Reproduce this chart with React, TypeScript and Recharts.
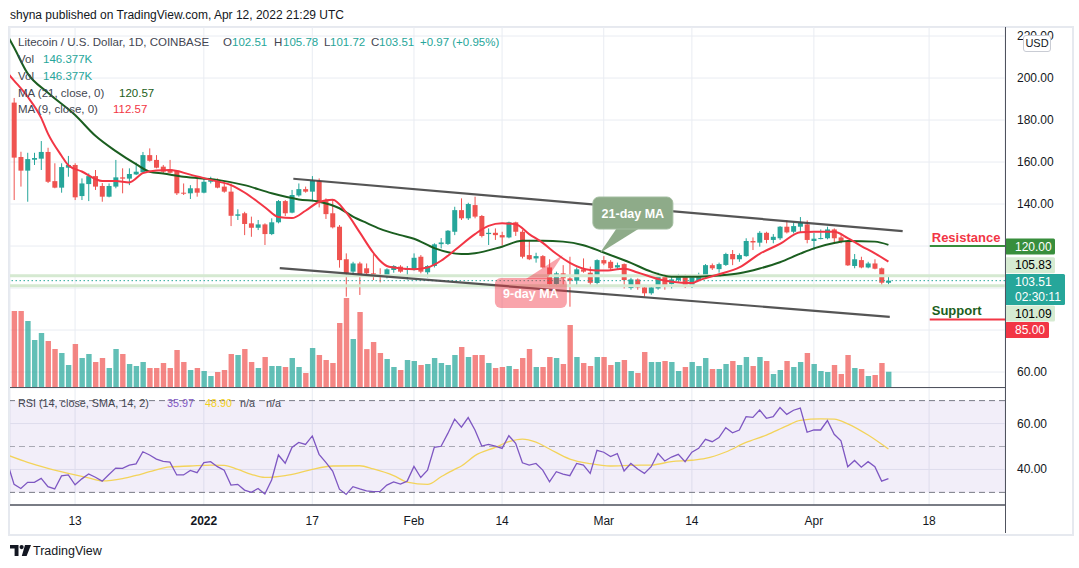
import React from "react";
import {
  ComposedChart,
  Bar,
  Line,
  XAxis,
  YAxis,
  CartesianGrid,
  ReferenceLine,
  ReferenceArea,
  ReferenceDot,
} from "recharts";

const FONT = '"Liberation Sans", Arial, sans-serif';

// ---- daily candles, day 0 = Dec 4 2021 ... day 129 = Apr 12 2022 ----
const opens = [
  188.3, 162.4, 155.9, 161.1, 161.6, 164.8, 150.9, 147.8, 157.3, 158.6,
  143.8, 149.5, 153.3, 148.6, 143.5, 148.3, 152.7, 152.1, 154.1, 155.1,
  163.3, 161.0, 157.8, 156.5, 155.9, 145.4, 145.1, 147.5, 145.4, 150.6,
  150.9, 148.3, 145.9, 134.4, 135.6, 130.8, 128.7, 130.3, 125.7, 131.3,
  141.4, 135.9, 144.1, 147.1, 145.9, 150.9, 141.4, 135.6, 129.2, 113.7,
  107.8, 111.7, 109.4, 107.0, 106.2, 105.9, 108.6, 110.2, 108.6, 108.6,
  114.9, 107.5, 110.5, 120.9, 121.0, 126.8, 137.1, 133.2, 139.5, 134.3,
  125.7, 126.3, 125.2, 124.1, 131.3, 126.8, 115.7, 114.1, 115.2, 109.8,
  101.9, 107.0, 104.6, 103.5, 108.9, 107.3, 102.4, 113.3, 112.5, 109.8,
  111.4, 100.0, 104.1, 100.3, 97.5, 99.8, 106.2, 101.9, 103.8, 105.4,
  100.6, 103.8, 105.4, 110.9, 109.0, 111.0, 116.2, 113.7, 115.2, 122.4,
  121.6, 126.3, 122.9, 123.7, 129.2, 126.8, 129.2, 130.3, 122.4, 123.5,
  123.7, 127.9, 124.1, 122.4, 110.5, 113.3, 109.8, 111.7, 109.4, 102.51,
];
const highs = [
  190.5, 164.9, 164.4, 164.4, 170.0, 166.8, 159.4, 159.4, 162.9, 159.4,
  152.2, 154.6, 156.2, 150.0, 149.8, 161.0, 157.0, 157.0, 159.7, 164.8,
  166.5, 163.3, 158.6, 161.0, 156.2, 149.8, 149.0, 152.7, 152.5, 153.0,
  152.2, 150.6, 149.8, 137.5, 136.3, 134.0, 132.4, 130.8, 133.2, 141.9,
  141.9, 146.7, 149.8, 148.3, 153.3, 152.2, 142.7, 141.9, 130.0, 116.5,
  112.5, 112.5, 111.7, 116.2, 109.4, 109.4, 110.9, 110.9, 110.5, 116.5,
  115.7, 110.9, 121.3, 123.8, 127.6, 138.7, 142.7, 140.6, 143.5, 134.8,
  128.4, 128.4, 126.8, 131.6, 131.6, 127.6, 122.9, 116.8, 115.7, 113.7,
  107.8, 110.9, 114.9, 109.8, 114.1, 110.2, 113.7, 115.2, 113.3, 112.1,
  111.7, 104.9, 104.6, 100.9, 100.6, 107.3, 106.7, 105.7, 106.7, 106.5,
  106.2, 107.3, 111.4, 111.7, 112.1, 116.8, 118.1, 116.5, 123.7, 124.1,
  127.1, 126.8, 125.7, 129.5, 132.2, 131.1, 133.8, 132.2, 126.3, 127.9,
  129.2, 128.4, 125.2, 122.9, 116.2, 114.9, 112.5, 113.7, 109.8, 105.78,
];
const lows = [
  141.9, 148.3, 141.1, 158.6, 156.2, 150.0, 147.5, 145.4, 153.0, 141.9,
  141.9, 141.4, 146.7, 141.1, 143.2, 147.5, 145.1, 149.0, 153.8, 154.9,
  160.2, 157.0, 154.6, 154.6, 144.3, 144.3, 142.4, 143.5, 145.1, 149.8,
  147.5, 145.4, 129.5, 132.4, 125.2, 124.4, 127.6, 120.5, 125.2, 130.8,
  134.3, 135.6, 143.5, 145.4, 141.9, 138.4, 132.9, 128.4, 109.7, 95.9,
  106.2, 96.7, 106.0, 103.8, 102.7, 104.6, 107.3, 107.3, 104.1, 108.3,
  107.0, 105.1, 109.8, 118.9, 120.5, 125.2, 132.4, 132.4, 133.2, 124.1,
  120.5, 122.9, 120.2, 123.7, 124.8, 114.1, 113.3, 112.1, 109.4, 100.6,
  100.6, 101.4, 91.1, 100.9, 107.3, 100.6, 101.6, 110.9, 108.6, 108.6,
  99.8, 99.2, 99.2, 96.0, 96.8, 99.2, 99.2, 99.8, 102.9, 100.0,
  100.0, 103.5, 104.6, 108.6, 107.3, 110.5, 110.9, 112.5, 114.9, 118.1,
  119.7, 121.3, 121.3, 122.9, 126.0, 126.0, 126.2, 121.3, 118.1, 123.2,
  123.2, 121.3, 121.3, 110.5, 109.4, 109.4, 109.4, 108.9, 101.4, 101.72,
];
const closes = [
  162.1, 155.9, 161.4, 161.9, 164.8, 150.6, 147.8, 157.6, 158.6, 143.2,
  149.8, 153.3, 148.3, 143.5, 148.6, 152.7, 152.1, 154.3, 155.4, 163.3,
  160.6, 157.3, 155.4, 154.9, 145.1, 145.1, 147.5, 145.4, 150.6, 151.4,
  147.8, 145.9, 134.4, 135.1, 130.5, 128.7, 130.3, 125.7, 131.3, 141.4,
  135.6, 144.3, 147.1, 145.9, 151.1, 140.6, 135.2, 128.9, 113.3, 107.0,
  111.7, 106.2, 107.0, 106.2, 105.7, 108.9, 110.5, 107.8, 109.2, 114.4,
  107.8, 110.5, 120.8, 121.7, 127.3, 137.1, 133.2, 140.0, 134.0, 124.8,
  126.3, 125.2, 124.1, 131.3, 126.8, 114.9, 113.7, 115.2, 109.8, 101.9,
  107.0, 104.6, 103.5, 108.9, 107.8, 102.5, 113.3, 111.7, 109.4, 110.9,
  103.8, 104.1, 100.3, 97.5, 100.3, 106.2, 101.4, 104.1, 105.4, 100.6,
  105.1, 106.2, 110.9, 109.4, 111.4, 116.2, 113.7, 115.7, 122.4, 121.7,
  126.3, 122.9, 124.4, 129.2, 126.5, 129.5, 131.1, 122.9, 123.5, 123.8,
  127.9, 123.7, 122.1, 110.8, 113.7, 109.8, 111.7, 109.2, 102.54, 103.51,
];
// volume in thousands
const volumes = [
  693, 693, 603, 432, 495, 423, 351, 315, 207, 396,
  270, 306, 234, 270, 180, 351, 306, 216, 198, 234,
  180, 180, 225, 180, 342, 234, 162, 180, 153, 108,
  144, 162, 306, 297, 351, 234, 180, 279, 198, 198,
  189, 270, 189, 135, 360, 297, 252, 225, 585, 810,
  441, 684, 350, 414, 315, 261, 189, 162, 252, 243,
  207, 216, 270, 225, 207, 297, 369, 279, 297, 297,
  225, 180, 189, 198, 171, 270, 351, 189, 189, 279,
  270, 216, 567, 279, 225, 198, 279, 279, 207, 234,
  252, 153, 135, 324, 234, 234, 243, 234, 153, 189,
  234, 198, 270, 171, 171, 216, 243, 207, 279, 198,
  279, 243, 126, 162, 243, 189, 234, 315, 216, 153,
  144, 207, 126, 297, 180, 171, 108, 117, 225, 146.377,
];

// moving averages (day, value)
const ma21Days = [-1, 0, 2, 5, 9, 12, 15, 18, 20, 22, 25, 30, 34, 38, 42, 45, 48, 50, 52, 54, 57, 59, 62, 66, 68, 72, 75, 78, 81, 84, 87, 91, 94, 97, 100, 104, 107, 110, 113, 116, 118, 121, 123, 127, 129];
const ma21Values = [220.5, 214.5, 202.2, 193.0, 182.4, 172.5, 165.2, 159.0, 155.4, 154.5, 153.0, 151.5, 149.0, 145.1, 142.2, 141.1, 138.0, 134.0, 131.0, 128.2, 125.2, 123.5, 119.0, 116.2, 116.6, 119.7, 122.5, 122.5, 122.1, 120.4, 116.9, 112.0, 107.8, 105.4, 105.4, 106.0, 107.0, 109.3, 112.3, 116.4, 118.9, 121.4, 122.4, 122.1, 120.57];
const ma9Days = [-1, 0, 2, 4, 5, 7, 8, 10, 13, 15, 17, 19, 21, 23, 26, 29, 32, 34, 37, 39, 41, 43, 45, 47, 49, 51, 53, 54, 55, 56, 59, 61, 63, 65, 68, 70, 72, 74, 76, 78, 80, 82, 85, 87, 90, 92, 95, 97, 100, 101, 103, 104, 107, 110, 113, 116, 118, 121, 123, 125, 127, 129];
const ma9Values = [202.5, 198.8, 191.1, 181.0, 173.5, 163.0, 158.5, 155.5, 151.0, 151.0, 150.3, 154.7, 156.0, 156.2, 154.0, 151.5, 149.0, 145.5, 138.5, 133.8, 133.3, 136.8, 141.0, 142.0, 136.0, 126.5, 116.8, 113.0, 110.5, 109.8, 109.0, 109.8, 113.0, 118.0, 125.7, 129.6, 130.8, 130.4, 125.7, 121.5, 116.3, 112.0, 108.6, 108.3, 109.2, 107.4, 104.3, 103.0, 102.4, 103.6, 105.6, 106.6, 109.8, 116.3, 121.0, 126.6, 126.8, 126.8, 123.8, 120.0, 116.5, 112.57];

// RSI(14), day -1 .. 129
const rsiValues = [
  43.0,
  33.5, 31.7, 34.4, 34.4, 36.1, 32.5, 31.5, 37.2, 37.6, 33.3,
  35.9, 38.0, 36.6, 34.9, 37.8, 40.6, 40.5, 41.9, 42.4, 47.7,
  46.3, 44.5, 43.5, 43.2, 37.6, 37.6, 39.6, 38.6, 43.0, 43.4,
  41.2, 39.7, 33.2, 33.5, 31.0, 30.0, 31.7, 29.3, 35.4, 46.3,
  42.7, 49.6, 51.8, 50.9, 54.6, 46.6, 43.1, 39.3, 31.4, 29.1,
  32.5, 31.5, 30.7, 30.3, 30.4, 33.2, 34.6, 33.6, 34.9, 41.3,
  36.5, 39.7, 49.6, 50.1, 55.7, 61.9, 58.4, 62.6, 57.2, 50.2,
  50.9, 50.2, 49.2, 54.7, 51.4, 42.9, 41.9, 42.6, 39.7, 34.6,
  39.0, 38.0, 37.3, 42.6, 41.9, 38.3, 48.3, 47.5, 45.6, 46.9,
  39.3, 42.6, 40.2, 38.3, 41.2, 47.0, 43.7, 45.4, 46.6, 43.4,
  47.5, 49.2, 53.1, 52.1, 53.9, 58.2, 56.0, 57.2, 63.0, 62.7,
  65.9, 62.3, 63.0, 67.0, 64.0, 65.8, 66.7, 56.2, 57.2, 57.2,
  61.3, 55.3, 52.5, 41.2, 43.9, 41.0, 43.4, 41.2, 34.9, 35.97,
];
const rsiSmaDays = [-1, 2, 5, 9, 11, 13, 16, 18, 20, 23, 26, 29, 31, 33, 35, 37, 40, 42, 44, 47, 51, 53, 56, 58, 61, 63, 65, 66, 68, 71, 73, 75, 77, 79, 82, 85, 88, 91, 94, 97, 100, 102, 105, 108, 111, 114, 116, 119, 121, 123, 126, 129];
const rsiSmaValues = [46.3, 43.1, 40.5, 37.6, 36.3, 35.0, 36.0, 37.4, 39.0, 41.1, 41.5, 41.9, 41.8, 40.0, 37.9, 36.5, 37.3, 38.5, 40.0, 41.5, 41.6, 40.2, 37.3, 34.5, 33.5, 36.8, 40.0, 41.5, 46.0, 49.6, 52.1, 53.2, 51.9, 48.9, 44.5, 42.5, 41.5, 41.8, 41.9, 43.4, 44.0, 44.8, 47.6, 51.8, 55.0, 59.0, 61.4, 62.0, 61.9, 59.9, 55.0, 48.9];

// axis ticks
const tickDays = [9, 28, 44, 59, 72, 87, 100, 118, 135];
const tickLabels = ["13", "2022", "17", "Feb", "14", "Mar", "14", "Apr", "18"];
const priceTicks = [60, 80, 100, 120, 140, 160, 180, 200, 220];
const priceTickShown = [60, 140, 160, 180, 200, 220];
const rsiTicks = [40, 60];

// drawings: channel lines (day, price)
const upperChannelDays = [41.2, 131.1];
const upperChannelPrices = [152.05, 127.1];
const lowerChannelDays = [39.2, 129.2];
const lowerChannelPrices = [109.5, 86.3];
const resistanceLevel = 120;
const supportLevel = 85;
const levelStartDay = 135.1;
const prevHigh = 105.83;
const prevLow = 101.09;
const lastClose = 103.51;
const callout21 = { day: 86.43, price: 116.67 };
const callout9 = { day: 80.97, price: 115.71 };

const X_DOMAIN: [number, number] = [-0.6, 146.2];
const PRICE_DOMAIN: [number, number] = [52.4, 224.3];
const VOL_DOMAIN: [number, number] = [0, 3249];
const RSI_DOMAIN: [number, number] = [24.5, 75.5];

const UP = "#26a69a";
const DOWN = "#ef5350";
const VOL_UP = "rgba(38,166,154,0.72)";
const VOL_DOWN = "rgba(239,83,80,0.7)";
const GRID = "#e9ecf2";
const AXIS = "#50535e";
const TEXT = "#131722";
const LABEL = "#434651";

const candleData = opens.map((o, i) => ({
  day: i,
  open: o,
  high: highs[i],
  low: lows[i],
  close: closes[i],
  range: [lows[i], highs[i]],
  volume: volumes[i],
}));
const rsiData = rsiValues.map((v, k) => ({ day: k - 1, rsi: v }));
const ma21Data = ma21Days.map((d, k) => ({ day: d, ma: ma21Values[k] }));
const ma9Data = ma9Days.map((d, k) => ({ day: d, ma: ma9Values[k] }));
const rsiSmaData = rsiSmaDays.map((d, k) => ({ day: d, sma: rsiSmaValues[k] }));

const Candle = (props: any) => {
  const { x, y, width, height, payload } = props;
  if (x == null || y == null || !payload) return null;
  const top = Math.min(y, y + height);
  const bottom = Math.max(y, y + height);
  const { open, close, high, low } = payload;
  const span = high - low || 1;
  const toY = (v: number) => top + ((high - v) / span) * (bottom - top);
  const color = close >= open ? UP : DOWN;
  const yO = toY(open);
  const yC = toY(close);
  const bTop = Math.min(yO, yC);
  const bH = Math.max(1, Math.abs(yO - yC));
  const cx = x + width / 2;
  return (
    <g>
      <line x1={cx} x2={cx} y1={top} y2={bottom} stroke={color} strokeWidth={1} />
      <rect x={x} y={bTop} width={width} height={bH} fill={color} />
    </g>
  );
};

const VolumeBar = (props: any) => {
  const { x, y, width, height, payload } = props;
  if (x == null || !payload) return null;
  const up = payload.close >= payload.open;
  return <rect x={x} y={y} width={width} height={Math.max(0, height)} fill={up ? VOL_UP : VOL_DOWN} />;
};

const PriceTick = (props: any) => {
  const { x, y, payload } = props;
  if (!priceTickShown.includes(payload.value)) return null;
  return (
    <text x={x + 10} y={y + 4} fontSize={12} fill={TEXT} fontFamily={FONT}>
      {Number(payload.value).toFixed(2)}
    </text>
  );
};

const RsiTick = (props: any) => {
  const { x, y, payload } = props;
  return (
    <text x={x + 10} y={y + 4} fontSize={12} fill={TEXT} fontFamily={FONT}>
      {Number(payload.value).toFixed(2)}
    </text>
  );
};

const XTick = (props: any) => {
  const { x, y, payload } = props;
  const k = tickDays.indexOf(payload.value);
  const label = tickLabels[k];
  return (
    <text
      x={x}
      y={y + 18}
      textAnchor="middle"
      fontSize={12}
      fontWeight={label === "2022" ? 700 : 400}
      fill={TEXT}
      fontFamily={FONT}
    >
      {label}
    </text>
  );
};

const Tag = ({ x, cy, w, h = 16, fill, color, lines }: any) => (
  <g>
    <rect x={x} y={cy - h / 2} width={w} height={h} fill={fill} rx={1.5} />
    {lines.map((t: string, k: number) => (
      <text key={k} x={x + 10} y={cy - h / 2 + 12 + k * 15} fontSize={12} fill={color} fontFamily={FONT}>
        {t}
      </text>
    ))}
  </g>
);

const LevelTag = (props: any) => {
  const vb = props.viewBox || {};
  const x = (vb.x || 0) + (vb.width || 0);
  const y = vb.y || 0;
  return <Tag x={x} cy={y + props.dy} w={props.w} h={props.h} fill={props.fill} color={props.color} lines={props.lines} />;
};

const LevelLabel = (props: any) => {
  const vb = props.viewBox || {};
  const x = vb.x || 0;
  const y = vb.y || 0;
  const right = x + (vb.width || 0);
  return (
    <g>
      <text x={x + 2} y={y + props.textDy} fontSize={13} fontWeight={700} fill={props.textColor} fontFamily={FONT}>
        {props.text}
      </text>
      <Tag x={right} cy={y + props.tagDy} w={props.w} fill={props.fill} color="#ffffff" lines={[props.tag]} />
    </g>
  );
};

const Callout21 = (p: any) => {
  const { cx, cy } = p;
  if (cx == null) return null;
  return (
    <g>
      <polygon points={`${cx + 17},${cy - 25} ${cx + 40},${cy - 25} ${cx},${cy}`} fill="#8eab89" />
      <rect x={cx - 7} y={cy - 56} width={80} height={32} rx={6} fill="#8eab89" stroke="#a3bd9f" strokeWidth={1} />
      <text x={cx + 33} y={cy - 35.5} textAnchor="middle" fontSize={12.5} fontWeight={700} fill="#ffffff" fontFamily={FONT}>
        21-day MA
      </text>
    </g>
  );
};

const Callout9 = (p: any) => {
  const { cx, cy } = p;
  if (cx == null) return null;
  return (
    <g>
      <polygon points={`${cx - 37},${cy + 24} ${cx - 16},${cy + 24} ${cx},${cy}`} fill="rgba(242,54,69,0.45)" />
      <rect x={cx - 68} y={cy + 23} width={72} height={30} rx={6} fill="rgba(242,54,69,0.45)" />
      <text x={cx - 32} y={cy + 42.5} textAnchor="middle" fontSize={12.5} fontWeight={700} fill="#ffffff" fontFamily={FONT}>
        9-day MA
      </text>
    </g>
  );
};

const T = ({ x, y, c = LABEL, s = 11.5, w = 400, children }: any) => (
  <span
    style={{
      position: "absolute",
      left: x,
      top: y - 8,
      fontSize: s,
      lineHeight: "16px",
      color: c,
      fontWeight: w,
      whiteSpace: "nowrap",
    }}
  >
    {children}
  </span>
);

const Logo = () => (
  <svg width={22} height={12} style={{ position: "absolute", left: 10, top: 545 }}>
    <path d="M0 0 H8.5 V11 H4.6 V3.6 H0 Z" fill={TEXT} />
    <circle cx={11.6} cy={2.1} r={2.1} fill={TEXT} />
    <path d="M15 0 H21 L16.6 11 H11.8 Z" fill={TEXT} />
  </svg>
);

export default function App() {
  return (
    <div
      style={{
        position: "absolute",
        left: 0,
        top: 0,
        width: 1079,
        height: 568,
        background: "#ffffff",
        fontFamily: FONT,
        overflow: "hidden",
      }}
    >
      {/* frame */}
      <div style={{ position: "absolute", left: 8, top: 26, width: 1062, height: 506, border: "2px solid #e6e9ef" }} />

      <T x={10} y={15} c={TEXT} s={12}>
        shyna published on TradingView.com, Apr 12, 2022 21:29 UTC
      </T>

      {/* price + volume pane */}
      <div style={{ position: "absolute", left: 0, top: 27 }}>
        <ComposedChart width={1079} height={361} data={candleData} margin={{ top: 0, right: 0, bottom: 0, left: 10 }}>
          <CartesianGrid stroke={GRID} />
          <XAxis xAxisId={0} dataKey="day" type="number" domain={X_DOMAIN} ticks={tickDays} allowDataOverflow hide />
          <XAxis xAxisId="v" dataKey="day" type="number" domain={X_DOMAIN} allowDataOverflow hide />
          <YAxis
            yAxisId={0}
            orientation="right"
            width={74}
            domain={PRICE_DOMAIN}
            ticks={priceTicks}
            allowDataOverflow
            axisLine={false}
            tickLine={false}
            tickSize={0}
            tick={<PriceTick />}
            interval={0}
          />
          <YAxis yAxisId="vol" domain={VOL_DOMAIN} hide />
          <Bar xAxisId="v" yAxisId="vol" dataKey="volume" barSize={5.4} shape={VolumeBar} isAnimationActive={false} />
          <ReferenceLine
            y={prevHigh}
            stroke="#d5e9d1"
            strokeWidth={3}
            label={<LevelTag dy={-10.5} w={50} fill="#d6ebd2" color="#000000" lines={["105.83"]} />}
          />
          <ReferenceLine
            y={prevLow}
            stroke="#d5e9d1"
            strokeWidth={3}
            label={<LevelTag dy={27.8} w={50} fill="#d6ebd2" color="#000000" lines={["101.09"]} />}
          />
          <ReferenceLine
            y={lastClose}
            stroke={UP}
            strokeDasharray="1.5 2.5"
            label={<LevelTag dy={8.9} h={31} w={60} fill={UP} color="#ffffff" lines={["103.51", "02:30:11"]} />}
          />
          <Bar dataKey="range" barSize={5} shape={Candle} isAnimationActive={false} />
          <Line data={ma21Data} dataKey="ma" type="monotone" stroke="#1b5e20" strokeWidth={2} dot={false} activeDot={false} isAnimationActive={false} />
          <Line data={ma9Data} dataKey="ma" type="monotone" stroke="#f23645" strokeWidth={2} dot={false} activeDot={false} isAnimationActive={false} />
          <ReferenceLine
            segment={[
              { x: upperChannelDays[0], y: upperChannelPrices[0] },
              { x: upperChannelDays[1], y: upperChannelPrices[1] },
            ]}
            stroke="#434343"
            strokeOpacity={0.9}
            strokeWidth={2.2}
            ifOverflow="visible"
          />
          <ReferenceLine
            segment={[
              { x: lowerChannelDays[0], y: lowerChannelPrices[0] },
              { x: lowerChannelDays[1], y: lowerChannelPrices[1] },
            ]}
            stroke="#434343"
            strokeOpacity={0.9}
            strokeWidth={2.2}
            ifOverflow="visible"
          />
          <ReferenceDot x={callout21.day} y={callout21.price} ifOverflow="visible" shape={(p: any) => <Callout21 {...p} />} />
          <ReferenceDot x={callout9.day} y={callout9.price} ifOverflow="visible" shape={(p: any) => <Callout9 {...p} />} />
          <ReferenceLine
            segment={[
              { x: levelStartDay, y: resistanceLevel },
              { x: X_DOMAIN[1], y: resistanceLevel },
            ]}
            stroke="#388e3c"
            strokeWidth={2}
            ifOverflow="visible"
            label={<LevelLabel text="Resistance" textColor="#f23645" textDy={-4.5} tagDy={0.5} tag="120.00" w={50} fill="#388e3c" />}
          />
          <ReferenceLine
            segment={[
              { x: levelStartDay, y: supportLevel },
              { x: X_DOMAIN[1], y: supportLevel },
            ]}
            stroke="#f23645"
            strokeWidth={2}
            ifOverflow="visible"
            label={<LevelLabel text="Support" textColor="#1b5e20" textDy={-4.5} tagDy={10.5} tag="85.00" w={44} fill="#f23645" />}
          />
        </ComposedChart>
      </div>

      {/* RSI pane */}
      <div style={{ position: "absolute", left: 0, top: 388 }}>
        <ComposedChart width={1079} height={145} data={rsiData} margin={{ top: 0, right: 0, bottom: 0, left: 10 }}>
          <CartesianGrid stroke={GRID} />
          <ReferenceArea y1={30} y2={70} fill="#7e57c2" fillOpacity={0.1} stroke="none" />
          <ReferenceLine y={70} stroke="#787b86" strokeDasharray="6 4" />
          <ReferenceLine y={50} stroke="rgba(120,123,134,0.6)" strokeDasharray="6 4" />
          <ReferenceLine y={30} stroke="#787b86" strokeDasharray="6 4" />
          <XAxis
            dataKey="day"
            type="number"
            domain={X_DOMAIN}
            ticks={tickDays}
            allowDataOverflow
            height={28}
            interval={0}
            tickLine={false}
            tickSize={0}
            axisLine={{ stroke: AXIS, strokeWidth: 1.5 }}
            tick={<XTick />}
          />
          <YAxis
            orientation="right"
            width={74}
            domain={RSI_DOMAIN}
            ticks={rsiTicks}
            allowDataOverflow
            axisLine={false}
            tickLine={false}
            tickSize={0}
            tick={<RsiTick />}
            interval={0}
          />
          <Line data={rsiSmaData} dataKey="sma" type="monotone" stroke="#f3d35a" strokeWidth={1.3} dot={false} activeDot={false} isAnimationActive={false} />
          <Line dataKey="rsi" type="linear" stroke="#7e57c2" strokeWidth={1.3} dot={false} activeDot={false} isAnimationActive={false} />
        </ComposedChart>
      </div>

      {/* separators */}
      <div style={{ position: "absolute", left: 10, top: 387, width: 995, height: 1, background: AXIS }} />
      <div style={{ position: "absolute", left: 1004.5, top: 27, width: 1, height: 506, background: AXIS }} />

      {/* USD badge */}
      <div
        style={{
          position: "absolute",
          left: 1023,
          top: 35,
          width: 26,
          height: 15,
          background: "#fff",
          border: "1px solid #c9ccd4",
          borderRadius: 3,
          fontSize: 11,
          lineHeight: "15px",
          textAlign: "center",
          color: TEXT,
        }}
      >
        USD
      </div>

      {/* legend */}
      <T x={18} y={42}>Litecoin / U.S. Dollar, 1D, COINBASE</T>
      <T x={223} y={42}>O</T>
      <T x={232} y={42} c={UP}>102.51</T>
      <T x={274} y={42}>H</T>
      <T x={283} y={42} c={UP}>105.78</T>
      <T x={324} y={42}>L</T>
      <T x={330} y={42} c={UP}>101.72</T>
      <T x={371} y={42}>C</T>
      <T x={379} y={42} c={UP}>103.51</T>
      <T x={420} y={42} c={UP}>+0.97 (+0.95%)</T>
      <T x={18} y={59}>Vol</T>
      <T x={43} y={59} c={UP}>146.377K</T>
      <T x={18} y={76}>Vol</T>
      <T x={43} y={76} c={UP}>146.377K</T>
      <T x={18} y={93}>MA (21, close, 0)</T>
      <T x={119} y={93} c="#1b5e20">120.57</T>
      <T x={18} y={109}>MA (9, close, 0)</T>
      <T x={113} y={109} c="#f23645">112.57</T>

      <T x={18} y={403} s={10.8}>RSI (14, close, SMA, 14, 2)</T>
      <T x={167} y={403} s={10.8} c="#7e57c2">35.97</T>
      <T x={205} y={403} s={10.8} c="#f2cf1d">48.90</T>
      <T x={240} y={403} s={10.8}>n/a</T>
      <T x={266} y={403} s={10.8}>n/a</T>

      <Logo />
      <T x={33} y={551} c={TEXT} s={12.5}>TradingView</T>
    </div>
  );
}
